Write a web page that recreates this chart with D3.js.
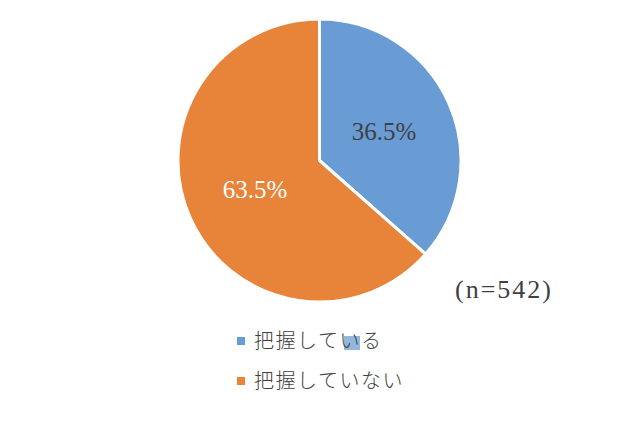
<!DOCTYPE html>
<html><head><meta charset="utf-8">
<script src="https://cdn.jsdelivr.net/npm/d3@7"></script>
<style>
html,body{margin:0;padding:0;background:#fff;}
svg{display:block;}
</style></head>
<body>
<svg id="chart" width="640" height="426"></svg>
<script>
// Survey answers and shares (%)
const categories = ["把握している", "把握していない"];
const shares = [36.5, 63.5];
const colors = ["#699BD4", "#E8833A"];
const sampleNote = "(n=542)";

const svg = d3.select("#chart");
const cx = 319.5, cy = 160.5, r = 141.5;

const pie = d3.pie().sort(null).value(d => d)(shares);
const arc = d3.arc().innerRadius(0).outerRadius(r);
const labelArc = d3.arc().innerRadius(r * 0.5).outerRadius(r * 0.5);

const g = svg.append("g").attr("transform", `translate(${cx},${cy})`);

g.selectAll("path.slice").data(pie).join("path")
  .attr("class", "slice")
  .attr("d", arc)
  .attr("fill", (d, i) => colors[i])
  .attr("stroke", "#fff")
  .attr("stroke-width", 3)
  .attr("stroke-linejoin", "round");

g.selectAll("text.val").data(pie).join("text")
  .attr("class", "val")
  .attr("transform", d => `translate(${labelArc.centroid(d)})`)
  .attr("text-anchor", "middle")
  .attr("dy", "0.34em")
  .attr("font-family", "'Liberation Serif','DejaVu Serif',serif")
  .attr("font-size", 25)
  .attr("fill", (d, i) => i === 0 ? "#404040" : "#ffffff")
  .text(d => d.data.toFixed(1) + "%");

svg.append("text")
  .attr("x", 504).attr("y", 298)
  .attr("text-anchor", "middle")
  .attr("font-family", "'Liberation Serif','DejaVu Serif',serif")
  .attr("font-size", 26)
  .attr("letter-spacing", 2)
  .attr("fill", "#404040")
  .text(sampleNote);

// Legend
const legend = svg.append("g");
const rowY = d3.scalePoint().domain(categories).range([341, 381]);

// selection highlight behind one character of the first entry
legend.append("rect")
  .attr("x", 344).attr("y", 336).attr("width", 16).attr("height", 14)
  .attr("fill", "#93B8DC");

categories.forEach((c, i) => {
  const y = rowY(c);
  legend.append("rect")
    .attr("x", 237).attr("y", y - 4).attr("width", 8).attr("height", 8)
    .attr("fill", colors[i]);
  legend.append("text")
    .attr("x", 254).attr("y", y)
    .attr("dy", "0.36em")
    .attr("font-family", "'Noto Sans CJK JP',sans-serif")
    .attr("font-weight", 300)
    .attr("font-size", 20)
    .attr("letter-spacing", 1.5)
    .attr("fill", "#404040")
    .text(c);
});
</script>
</body></html>
